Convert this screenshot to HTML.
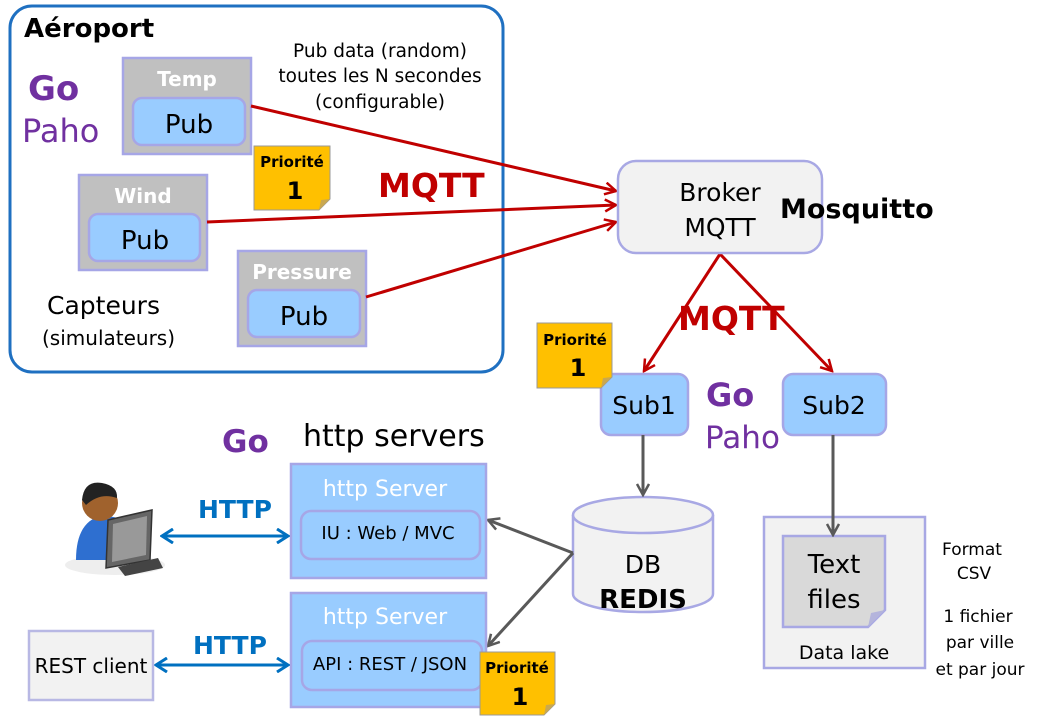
<!DOCTYPE html>
<html><head><meta charset="utf-8"><style>
html,body{margin:0;padding:0;background:#fff;}
svg{display:block;font-family:"DejaVu Sans","Liberation Sans",sans-serif;}
</style></head><body>
<svg width="1040" height="727" viewBox="0 0 1040 727" xmlns="http://www.w3.org/2000/svg">
<defs>
<marker id="ar" markerWidth="14" markerHeight="14" refX="12" refY="7" orient="auto" markerUnits="userSpaceOnUse"><path d="M1,1 L12,7 L1,13" fill="none" stroke="#c00000" stroke-width="2.5"/></marker>
<marker id="ag" markerWidth="14" markerHeight="14" refX="12" refY="7" orient="auto" markerUnits="userSpaceOnUse"><path d="M1,1 L12,7 L1,13" fill="none" stroke="#595959" stroke-width="2.5"/></marker>
<marker id="ab" markerWidth="14" markerHeight="16" refX="12" refY="8" orient="auto-start-reverse" markerUnits="userSpaceOnUse"><path d="M1,1 L12,8 L1,15" fill="none" stroke="#0070c0" stroke-width="3"/></marker>
</defs>

<!-- Aeroport -->
<rect x="10" y="6" width="493" height="366" rx="22" fill="#fff" stroke="#1f70c1" stroke-width="3"/>
<text x="24" y="37" font-size="26" font-weight="bold">Aéroport</text>
<text x="28" y="100" font-size="34" font-weight="bold" fill="#7030a0">Go</text>
<text x="22" y="142" font-size="32" fill="#7030a0">Paho</text>
<text x="380" y="57" font-size="18.5" text-anchor="middle">Pub data (random)</text>
<text x="380" y="82" font-size="18.5" text-anchor="middle">toutes les N secondes</text>
<text x="380" y="108" font-size="18.5" text-anchor="middle">(configurable)</text>
<text x="47" y="314" font-size="25">Capteurs</text>
<text x="42" y="345" font-size="20">(simulateurs)</text>

<!-- sensors -->
<g stroke="#a6a6e6" stroke-width="2.5">
<rect x="123" y="58" width="128" height="96" fill="#c0c0c0"/>
<rect x="133" y="98" width="112" height="47" rx="9" fill="#99ccff"/>
<rect x="79" y="175" width="128" height="95" fill="#c0c0c0"/>
<rect x="89" y="214" width="111" height="47" rx="9" fill="#99ccff"/>
<rect x="238" y="251" width="128" height="95" fill="#c0c0c0"/>
<rect x="248" y="290" width="112" height="47" rx="9" fill="#99ccff"/>
</g>
<g font-weight="bold" fill="#fff" font-size="20" text-anchor="middle">
<text x="187" y="86">Temp</text><text x="143" y="203">Wind</text><text x="302" y="279">Pressure</text>
</g>
<g font-size="26" text-anchor="middle">
<text x="189" y="133">Pub</text><text x="145" y="249">Pub</text><text x="304" y="325">Pub</text>
</g>

<!-- red arrows -->
<g stroke="#c00000" stroke-width="3" fill="none" marker-end="url(#ar)">
<line x1="251" y1="106" x2="616" y2="191"/>
<line x1="207" y1="222" x2="616" y2="205"/>
<line x1="366" y1="297" x2="616" y2="222"/>
<line x1="720" y1="254" x2="644" y2="371"/>
<line x1="720" y1="254" x2="832" y2="371"/>
</g>
<text x="378" y="197" font-size="33" font-weight="bold" fill="#c00000">MQTT</text>
<text x="678" y="330" font-size="33" font-weight="bold" fill="#c00000">MQTT</text>

<!-- broker -->
<rect x="618" y="161" width="204" height="92" rx="18" fill="#f2f2f2" stroke="#a8a8e4" stroke-width="2.5"/>
<text x="720" y="201" font-size="25" text-anchor="middle">Broker</text>
<text x="720" y="236" font-size="25" text-anchor="middle">MQTT</text>
<text x="780" y="218" font-size="27" font-weight="bold">Mosquitto</text>

<!-- subs -->
<rect x="601" y="374" width="87" height="61" rx="10" fill="#99ccff" stroke="#a6a6e6" stroke-width="2.5"/>
<rect x="783" y="374" width="103" height="61" rx="10" fill="#99ccff" stroke="#a6a6e6" stroke-width="2.5"/>
<text x="644" y="414" font-size="25" text-anchor="middle">Sub1</text>
<text x="834" y="414" font-size="25" text-anchor="middle">Sub2</text>
<text x="706" y="406" font-size="32" font-weight="bold" fill="#7030a0">Go</text>
<text x="705" y="448" font-size="31" fill="#7030a0">Paho</text>

<!-- DB -->
<path d="M573,515 L573,594 A70,18 0 0 0 713,594 L713,515" fill="#f2f2f2" stroke="#a8a8e4" stroke-width="2.5"/>
<ellipse cx="643" cy="515" rx="70" ry="18" fill="#f2f2f2" stroke="#a8a8e4" stroke-width="2.5"/>
<text x="643" y="573" font-size="25" text-anchor="middle">DB</text>
<text x="643" y="608" font-size="26" font-weight="bold" text-anchor="middle">REDIS</text>

<!-- data lake -->
<rect x="764" y="517" width="161" height="151" fill="#f2f2f2" stroke="#a8a8e4" stroke-width="2.5"/>
<path d="M783,536 L885,536 L885,610 L868,627 L783,627 Z" fill="#d9d9d9" stroke="#a8a8e4" stroke-width="2.5"/>
<path d="M868,627 L871,613 L885,610 Z" fill="#b4b4dc"/>
<text x="834" y="573" font-size="26" text-anchor="middle">Text</text>
<text x="834" y="608" font-size="26" text-anchor="middle">files</text>
<text x="844" y="659" font-size="19" text-anchor="middle">Data lake</text>
<g font-size="17" text-anchor="middle">
<text x="972" y="555">Format</text><text x="974" y="579">CSV</text>
<text x="978" y="622">1 fichier</text><text x="980" y="648">par ville</text><text x="980" y="675">et par jour</text>
</g>

<!-- gray arrows -->
<g stroke="#595959" stroke-width="3" fill="none" marker-end="url(#ag)">
<line x1="643" y1="435" x2="643" y2="495"/>
<line x1="833" y1="435" x2="833" y2="535"/>
<line x1="573" y1="553" x2="488" y2="520"/>
<line x1="573" y1="553" x2="488" y2="646"/>
</g>

<!-- http servers -->
<text x="222" y="452" font-size="31" font-weight="bold" fill="#7030a0">Go</text>
<text x="303" y="446" font-size="30">http servers</text>
<rect x="291" y="464" width="195" height="114" fill="#99ccff" stroke="#a6a6e6" stroke-width="2.5"/>
<rect x="301" y="511" width="179" height="48" rx="10" fill="none" stroke="#a6a6e6" stroke-width="2.5"/>
<rect x="291" y="593" width="195" height="114" fill="#99ccff" stroke="#a6a6e6" stroke-width="2.5"/>
<rect x="302" y="641" width="180" height="49" rx="10" fill="none" stroke="#a6a6e6" stroke-width="2.5"/>
<text x="385" y="496" font-size="22" fill="#fff" text-anchor="middle">http Server</text>
<text x="385" y="624" font-size="22" fill="#fff" text-anchor="middle">http Server</text>
<text x="388" y="539" font-size="18" text-anchor="middle">IU : Web / MVC</text>
<text x="390" y="670" font-size="18" text-anchor="middle">API : REST / JSON</text>

<!-- HTTP arrows -->
<g stroke="#0070c0" stroke-width="3" fill="none" marker-start="url(#ab)" marker-end="url(#ab)">
<line x1="162" y1="536" x2="288" y2="536"/>
<line x1="156" y1="665" x2="288" y2="665"/>
</g>
<text x="198" y="518" font-size="25" font-weight="bold" fill="#0070c0">HTTP</text>
<text x="193" y="654" font-size="25" font-weight="bold" fill="#0070c0">HTTP</text>

<!-- REST client -->
<rect x="29" y="631" width="124" height="69" fill="#f2f2f2" stroke="#b8b8e4" stroke-width="2.5"/>
<text x="91" y="673" font-size="20" text-anchor="middle">REST client</text>

<!-- person -->
<ellipse cx="115" cy="565" rx="50" ry="10" fill="#eee"/>
<path d="M76,560 Q76,520 104,515 L118,518 Q128,525 128,560 Z" fill="#2e6fd0"/>
<circle cx="100" cy="503" r="18" fill="#a0622d"/>
<path d="M82,500 Q84,480 102,483 Q118,486 117,498 Q100,492 86,505 Z" fill="#222"/>
<path d="M108,520 L152,510 L150,560 L106,568 Z" fill="#666" stroke="#333" stroke-width="1.5"/>
<path d="M113,524 L147,516 L146,555 L112,562 Z" fill="#999"/>
<path d="M118,567 L158,558 L163,568 L125,576 Z" fill="#444"/>

<!-- priority notes -->
<g>
<path d="M254,146 L330,146 L330,199 L319,210 L254,210 Z" fill="#ffc000" stroke="#999" stroke-width="1"/>
<path d="M319,210 L321,200 L330,199 Z" fill="#c9a850"/>
<text x="292" y="167" font-size="15" font-weight="bold" text-anchor="middle">Priorité</text>
<text x="295" y="199" font-size="24" font-weight="bold" text-anchor="middle">1</text>
</g>
<g>
<path d="M537,323 L612,323 L612,377 L601,388 L537,388 Z" fill="#ffc000" stroke="#999" stroke-width="1"/>
<path d="M601,388 L603,378 L612,377 Z" fill="#c9a850"/>
<text x="575" y="345" font-size="15" font-weight="bold" text-anchor="middle">Priorité</text>
<text x="578" y="376" font-size="24" font-weight="bold" text-anchor="middle">1</text>
</g>
<g>
<path d="M480,652 L555,652 L555,704 L544,715 L480,715 Z" fill="#ffc000" stroke="#999" stroke-width="1"/>
<path d="M544,715 L546,705 L555,704 Z" fill="#c9a850"/>
<text x="517" y="673" font-size="15" font-weight="bold" text-anchor="middle">Priorité</text>
<text x="520" y="705" font-size="24" font-weight="bold" text-anchor="middle">1</text>
</g>
</svg>
</body></html>
